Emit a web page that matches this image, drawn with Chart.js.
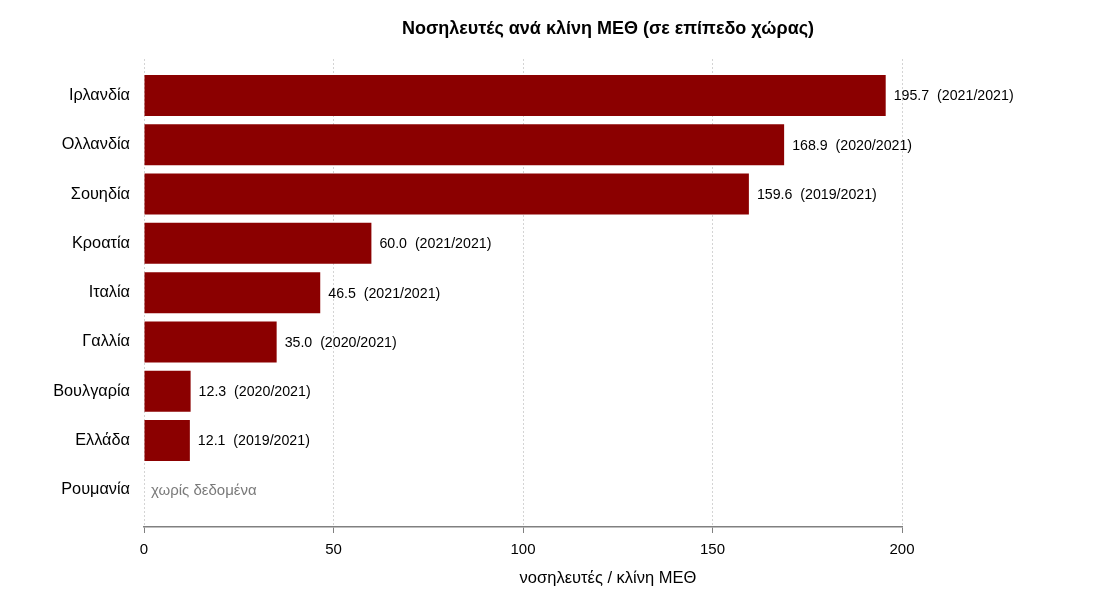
<!DOCTYPE html>
<html>
<head>
<meta charset="utf-8">
<script src="https://cdn.jsdelivr.net/npm/chart.js@4/dist/chart.umd.min.js"></script>
<style>
  html, body { margin: 0; padding: 0; background: #fff; }
  #wrap { width: 1100px; height: 600px; }
</style>
</head>
<body>
<div id="wrap"><canvas id="icuChart" width="1100" height="600"></canvas></div>
<script>
// data
const countries = ["Ιρλανδία", "Ολλανδία", "Σουηδία", "Κροατία", "Ιταλία", "Γαλλία", "Βουλγαρία", "Ελλάδα", "Ρουμανία"];
const nursesPerBed = [195.7, 168.9, 159.6, 60.0, 46.5, 35.0, 12.3, 12.1, null];
const dataYears = ["2021/2021", "2020/2021", "2019/2021", "2021/2021", "2021/2021", "2020/2021", "2020/2021", "2019/2021", null];
const xTicks = [0, 50, 100, 150, 200];

const chartTitle = "Νοσηλευτές ανά κλίνη ΜΕΘ (σε επίπεδο χώρας)";
const xTitle = "νοσηλευτές / κλίνη ΜΕΘ";
const noDataText = "χωρίς δεδομένα";

const FONT = "'Liberation Sans', Arial, Helvetica, sans-serif";
const ctx = document.getElementById('icuChart').getContext('2d');

// titles + value labels drawn by hand
const labelPlugin = {
    id: 'labelPlugin',
    afterDraw(chart) {
        const c = chart.ctx;
        const xs = chart.scales.x;
        const ys = chart.scales.y;
        const meta = chart.getDatasetMeta(0);
        c.save();
        c.textBaseline = 'middle';
        c.textAlign = 'left';
        for (let i = 0; i < countries.length; i++) {
            const yPix = ys.getPixelForValue(i) + 1;
            if (nursesPerBed[i] === null) {
                c.font = "15px " + FONT;
                c.fillStyle = '#7a7a7a';
                c.fillText(noDataText, xs.getPixelForValue(0) + 7, yPix);
            } else {
                c.font = "14.2px " + FONT;
                c.fillStyle = '#000';
                const bar = meta.data[i];
                c.fillText(nursesPerBed[i].toFixed(1) + "  (" + dataYears[i] + ")", bar.x + 8, yPix);
            }
        }
        // main title
        c.textAlign = 'center';
        c.fillStyle = '#000';
        c.font = "bold 18px " + FONT;
        c.fillText(chartTitle, 608, 29);
        // x axis title
        c.font = "16.5px " + FONT;
        c.fillText(xTitle, 608, 578);
        c.restore();
    }
};

new Chart(ctx, {
    type: 'bar',
    data: {
        datasets: [{
            data: nursesPerBed.map((v, i) => ({ x: v, y: i })),
            backgroundColor: '#8b0000',
            borderWidth: 0,
            barPercentage: 0.832,
            categoryPercentage: 1.0
        }]
    },
    options: {
        indexAxis: 'y',
        responsive: false,
        animation: false,
        layout: { padding: { left: 0, right: 198, top: 59, bottom: 0 } },
        plugins: {
            legend: { display: false },
            tooltip: { enabled: false }
        },
        scales: {
            x: {
                type: 'linear',
                position: 'bottom',
                min: 0,
                max: 200,
                z: 1,
                afterBuildTicks: (scale) => { scale.ticks = xTicks.map(v => ({ value: v })); },
                afterFit: (scale) => { scale.height = 73; },
                ticks: {
                    color: '#000',
                    padding: 8,
                    font: { family: FONT, size: 15 }
                },
                grid: {
                    color: '#d4d4d4',
                    tickColor: '#808080',
                    tickLength: 6,
                    lineWidth: 1,
                    tickBorderDash: [],
                    tickBorderDashOffset: 0
                },
                border: { color: '#808080', width: 1.5, dash: [2, 2] }
            },
            y: {
                type: 'linear',
                reverse: true,
                offset: false,
                min: -0.74,
                max: 8.755,
                afterBuildTicks: (scale) => { scale.ticks = countries.map((_, i) => ({ value: i })); },
                afterFit: (scale) => { scale.width = 144; },
                ticks: {
                    color: '#000',
                    padding: 14,
                    font: { family: FONT, size: 16.3 },
                    callback: (v) => countries[v] || ''
                },
                grid: { display: false, drawTicks: false },
                border: { display: false }
            }
        }
    },
    plugins: [labelPlugin]
});
</script>
</body>
</html>
